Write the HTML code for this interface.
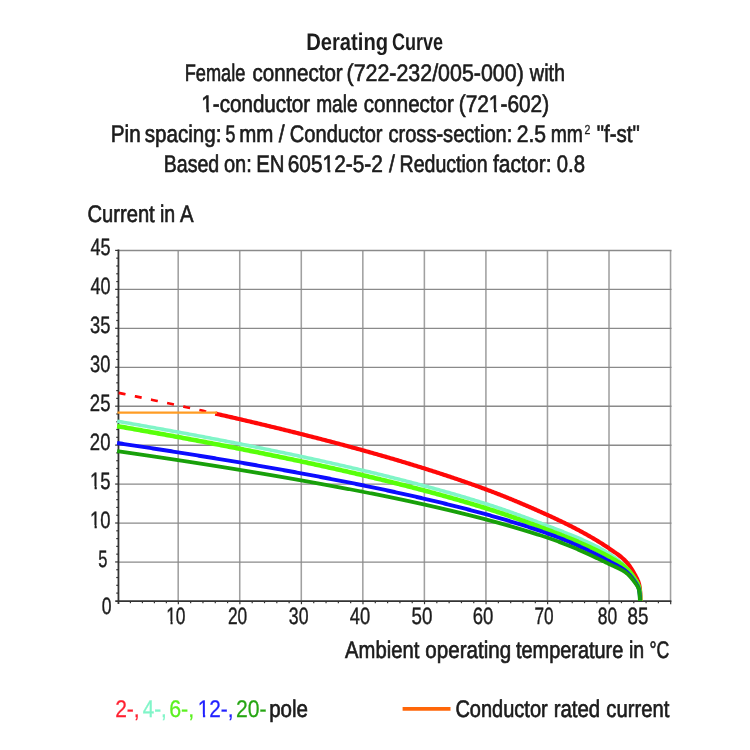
<!DOCTYPE html>
<html><head><meta charset="utf-8"><title>Derating Curve</title>
<style>
html,body{margin:0;padding:0;background:#fff;}
body{width:750px;height:750px;overflow:hidden;font-family:"Liberation Sans",sans-serif;}
svg{display:block;will-change:transform;filter:blur(0.4px);}
text{font-family:"Liberation Sans",sans-serif;fill:#1c1c1c;stroke:#1c1c1c;stroke-width:0.65px;font-kerning:none;text-rendering:geometricPrecision;}
</style></head><body>
<svg width="750" height="750" viewBox="0 0 750 750">
<rect width="750" height="750" fill="#ffffff"/>
<g stroke="#a0a0a0" stroke-width="1.55" fill="none"><line x1="178.19" y1="250.20" x2="178.19" y2="600.70"/><line x1="239.74" y1="250.20" x2="239.74" y2="600.70"/><line x1="301.29" y1="250.20" x2="301.29" y2="600.70"/><line x1="362.83" y1="250.20" x2="362.83" y2="600.70"/><line x1="424.38" y1="250.20" x2="424.38" y2="600.70"/><line x1="485.92" y1="250.20" x2="485.92" y2="600.70"/><line x1="547.47" y1="250.20" x2="547.47" y2="600.70"/><line x1="609.01" y1="250.20" x2="609.01" y2="600.70"/><line x1="670.55" y1="250.20" x2="670.55" y2="600.70"/></g>
<g stroke="#8a8a8a" stroke-width="1.35" fill="none"><line x1="118.45" y1="562.06" x2="671.50" y2="562.06"/><line x1="118.45" y1="523.11" x2="671.50" y2="523.11"/><line x1="118.45" y1="484.17" x2="671.50" y2="484.17"/><line x1="118.45" y1="445.22" x2="671.50" y2="445.22"/><line x1="118.45" y1="406.28" x2="671.50" y2="406.28"/><line x1="118.45" y1="367.33" x2="671.50" y2="367.33"/><line x1="118.45" y1="328.39" x2="671.50" y2="328.39"/><line x1="118.45" y1="289.44" x2="671.50" y2="289.44"/><line x1="118.45" y1="250.50" x2="671.50" y2="250.50"/></g>
<g stroke="#333333" stroke-width="1.8" fill="none"><line x1="118.45" y1="249.60" x2="118.45" y2="604.00"/><line x1="115.25" y1="601.20" x2="671.40" y2="601.20"/></g>
<g stroke="#333333" stroke-width="1.2" fill="none"><line x1="116.25" y1="593.11" x2="118.45" y2="593.11"/><line x1="116.25" y1="585.32" x2="118.45" y2="585.32"/><line x1="116.25" y1="577.53" x2="118.45" y2="577.53"/><line x1="116.25" y1="569.74" x2="118.45" y2="569.74"/><line x1="115.15" y1="561.96" x2="118.45" y2="561.96"/><line x1="116.25" y1="554.17" x2="118.45" y2="554.17"/><line x1="116.25" y1="546.38" x2="118.45" y2="546.38"/><line x1="116.25" y1="538.59" x2="118.45" y2="538.59"/><line x1="116.25" y1="530.80" x2="118.45" y2="530.80"/><line x1="115.15" y1="523.01" x2="118.45" y2="523.01"/><line x1="116.25" y1="515.22" x2="118.45" y2="515.22"/><line x1="116.25" y1="507.43" x2="118.45" y2="507.43"/><line x1="116.25" y1="499.64" x2="118.45" y2="499.64"/><line x1="116.25" y1="491.86" x2="118.45" y2="491.86"/><line x1="115.15" y1="484.07" x2="118.45" y2="484.07"/><line x1="116.25" y1="476.28" x2="118.45" y2="476.28"/><line x1="116.25" y1="468.49" x2="118.45" y2="468.49"/><line x1="116.25" y1="460.70" x2="118.45" y2="460.70"/><line x1="116.25" y1="452.91" x2="118.45" y2="452.91"/><line x1="115.15" y1="445.12" x2="118.45" y2="445.12"/><line x1="116.25" y1="437.33" x2="118.45" y2="437.33"/><line x1="116.25" y1="429.54" x2="118.45" y2="429.54"/><line x1="116.25" y1="421.76" x2="118.45" y2="421.76"/><line x1="116.25" y1="413.97" x2="118.45" y2="413.97"/><line x1="115.15" y1="406.18" x2="118.45" y2="406.18"/><line x1="116.25" y1="398.39" x2="118.45" y2="398.39"/><line x1="116.25" y1="390.60" x2="118.45" y2="390.60"/><line x1="116.25" y1="382.81" x2="118.45" y2="382.81"/><line x1="116.25" y1="375.02" x2="118.45" y2="375.02"/><line x1="115.15" y1="367.23" x2="118.45" y2="367.23"/><line x1="116.25" y1="359.44" x2="118.45" y2="359.44"/><line x1="116.25" y1="351.66" x2="118.45" y2="351.66"/><line x1="116.25" y1="343.87" x2="118.45" y2="343.87"/><line x1="116.25" y1="336.08" x2="118.45" y2="336.08"/><line x1="115.15" y1="328.29" x2="118.45" y2="328.29"/><line x1="116.25" y1="320.50" x2="118.45" y2="320.50"/><line x1="116.25" y1="312.71" x2="118.45" y2="312.71"/><line x1="116.25" y1="304.92" x2="118.45" y2="304.92"/><line x1="116.25" y1="297.13" x2="118.45" y2="297.13"/><line x1="115.15" y1="289.34" x2="118.45" y2="289.34"/><line x1="116.25" y1="281.56" x2="118.45" y2="281.56"/><line x1="116.25" y1="273.77" x2="118.45" y2="273.77"/><line x1="116.25" y1="265.98" x2="118.45" y2="265.98"/><line x1="116.25" y1="258.19" x2="118.45" y2="258.19"/><line x1="115.15" y1="250.40" x2="118.45" y2="250.40"/><line x1="130.43" y1="601.20" x2="130.43" y2="603.20"/><line x1="142.41" y1="601.20" x2="142.41" y2="603.20"/><line x1="154.39" y1="601.20" x2="154.39" y2="603.20"/><line x1="166.37" y1="601.20" x2="166.37" y2="603.20"/><line x1="178.34" y1="601.20" x2="178.34" y2="604.20"/><line x1="190.65" y1="601.20" x2="190.65" y2="603.20"/><line x1="202.96" y1="601.20" x2="202.96" y2="603.20"/><line x1="215.27" y1="601.20" x2="215.27" y2="603.20"/><line x1="227.58" y1="601.20" x2="227.58" y2="603.20"/><line x1="239.89" y1="601.20" x2="239.89" y2="604.20"/><line x1="252.20" y1="601.20" x2="252.20" y2="603.20"/><line x1="264.51" y1="601.20" x2="264.51" y2="603.20"/><line x1="276.82" y1="601.20" x2="276.82" y2="603.20"/><line x1="289.13" y1="601.20" x2="289.13" y2="603.20"/><line x1="301.44" y1="601.20" x2="301.44" y2="604.20"/><line x1="313.74" y1="601.20" x2="313.74" y2="603.20"/><line x1="326.05" y1="601.20" x2="326.05" y2="603.20"/><line x1="338.36" y1="601.20" x2="338.36" y2="603.20"/><line x1="350.67" y1="601.20" x2="350.67" y2="603.20"/><line x1="362.98" y1="601.20" x2="362.98" y2="604.20"/><line x1="375.29" y1="601.20" x2="375.29" y2="603.20"/><line x1="387.60" y1="601.20" x2="387.60" y2="603.20"/><line x1="399.91" y1="601.20" x2="399.91" y2="603.20"/><line x1="412.22" y1="601.20" x2="412.22" y2="603.20"/><line x1="424.52" y1="601.20" x2="424.52" y2="604.20"/><line x1="436.83" y1="601.20" x2="436.83" y2="603.20"/><line x1="449.14" y1="601.20" x2="449.14" y2="603.20"/><line x1="461.45" y1="601.20" x2="461.45" y2="603.20"/><line x1="473.76" y1="601.20" x2="473.76" y2="603.20"/><line x1="486.07" y1="601.20" x2="486.07" y2="604.20"/><line x1="498.38" y1="601.20" x2="498.38" y2="603.20"/><line x1="510.69" y1="601.20" x2="510.69" y2="603.20"/><line x1="523.00" y1="601.20" x2="523.00" y2="603.20"/><line x1="535.31" y1="601.20" x2="535.31" y2="603.20"/><line x1="547.62" y1="601.20" x2="547.62" y2="604.20"/><line x1="559.92" y1="601.20" x2="559.92" y2="603.20"/><line x1="572.23" y1="601.20" x2="572.23" y2="603.20"/><line x1="584.54" y1="601.20" x2="584.54" y2="603.20"/><line x1="596.85" y1="601.20" x2="596.85" y2="603.20"/><line x1="609.16" y1="601.20" x2="609.16" y2="604.20"/><line x1="621.47" y1="601.20" x2="621.47" y2="603.20"/><line x1="633.78" y1="601.20" x2="633.78" y2="603.20"/><line x1="646.09" y1="601.20" x2="646.09" y2="603.20"/><line x1="658.40" y1="601.20" x2="658.40" y2="603.20"/><line x1="670.70" y1="601.20" x2="670.70" y2="604.20"/></g>
<g fill="none" stroke-linecap="butt" stroke-linejoin="round">
<path d="M215.27,413.59 L216.69,413.91 L218.10,414.23 L219.51,414.55 L220.92,414.86 L222.32,415.18 L223.72,415.50 L225.12,415.82 L226.52,416.14 L227.92,416.46 L229.31,416.78 L230.70,417.10 L232.09,417.42 L233.47,417.74 L234.86,418.06 L236.24,418.38 L237.62,418.70 L239.00,419.01 L240.37,419.33 L241.74,419.65 L243.11,419.97 L244.48,420.29 L245.84,420.61 L247.21,420.93 L248.57,421.25 L249.92,421.57 L251.28,421.89 L252.63,422.20 L253.98,422.52 L255.33,422.84 L256.68,423.16 L258.02,423.48 L259.36,423.80 L260.70,424.12 L262.04,424.44 L263.37,424.76 L264.70,425.08 L266.03,425.39 L267.36,425.71 L268.68,426.03 L270.01,426.35 L271.33,426.67 L272.64,426.99 L273.96,427.31 L275.27,427.63 L276.58,427.94 L277.89,428.26 L279.20,428.58 L280.50,428.90 L281.80,429.22 L283.10,429.54 L284.40,429.86 L285.69,430.18 L286.98,430.49 L288.27,430.81 L289.56,431.13 L290.84,431.45 L292.12,431.77 L293.40,432.09 L294.68,432.41 L295.96,432.72 L297.23,433.04 L298.50,433.36 L299.77,433.68 L301.03,434.00 L302.30,434.32 L303.56,434.63 L304.82,434.95 L306.07,435.27 L307.33,435.59 L308.58,435.91 L309.83,436.23 L311.08,436.55 L312.32,436.86 L313.56,437.18 L314.80,437.50 L316.04,437.82 L317.27,438.14 L318.51,438.46 L319.74,438.77 L320.97,439.09 L322.19,439.41 L323.41,439.73 L324.64,440.05 L325.85,440.36 L327.07,440.68 L328.28,441.00 L329.50,441.32 L330.70,441.64 L331.91,441.96 L333.12,442.27 L334.32,442.59 L335.52,442.91 L336.71,443.23 L337.91,443.55 L339.10,443.86 L340.29,444.18 L341.48,444.50 L342.67,444.82 L343.85,445.14 L345.03,445.45 L346.21,445.77 L347.38,446.09 L348.56,446.41 L349.73,446.73 L350.90,447.04 L352.06,447.36 L353.23,447.68 L354.39,448.00 L355.55,448.31 L356.71,448.63 L357.86,448.95 L359.01,449.27 L360.16,449.59 L361.31,449.90 L362.46,450.22 L363.60,450.54 L364.74,450.86 L365.88,451.17 L367.02,451.49 L368.15,451.81 L369.28,452.13 L370.41,452.44 L371.54,452.76 L372.66,453.08 L373.78,453.40 L374.90,453.71 L376.02,454.03 L377.13,454.35 L378.25,454.67 L379.36,454.98 L380.46,455.30 L381.57,455.62 L382.67,455.94 L383.77,456.25 L384.87,456.57 L385.97,456.89 L387.06,457.21 L388.15,457.52 L389.24,457.84 L390.33,458.16 L391.41,458.48 L392.49,458.79 L393.57,459.11 L394.65,459.43 L395.72,459.75 L396.80,460.06 L397.87,460.38 L398.93,460.70 L400.00,461.01 L401.06,461.33 L402.12,461.65 L403.18,461.97 L404.24,462.28 L405.29,462.60 L406.34,462.92 L407.39,463.23 L408.43,463.55 L409.48,463.87 L410.52,464.19 L411.56,464.50 L412.60,464.82 L413.63,465.14 L414.66,465.45 L415.69,465.77 L416.72,466.09 L417.75,466.40 L418.77,466.72 L419.79,467.04 L420.81,467.35 L421.82,467.67 L422.84,467.99 L423.85,468.30 L424.85,468.62 L425.86,468.94 L426.86,469.25 L427.87,469.57 L428.87,469.89 L429.86,470.20 L430.86,470.52 L431.85,470.84 L432.84,471.15 L433.83,471.47 L434.81,471.79 L435.79,472.10 L436.77,472.42 L437.75,472.74 L438.73,473.05 L439.70,473.37 L440.67,473.69 L441.64,474.00 L442.61,474.32 L443.57,474.64 L444.53,474.95 L445.49,475.27 L446.45,475.58 L447.40,475.90 L448.35,476.22 L449.30,476.53 L450.25,476.85 L451.19,477.17 L452.14,477.48 L453.08,477.80 L454.01,478.12 L454.95,478.43 L455.88,478.75 L456.81,479.06 L457.74,479.38 L458.67,479.70 L459.59,480.01 L460.51,480.33 L461.43,480.64 L462.35,480.96 L463.26,481.28 L464.17,481.59 L465.08,481.91 L465.99,482.22 L466.90,482.54 L467.80,482.86 L468.70,483.17 L469.60,483.49 L470.49,483.80 L471.38,484.12 L472.28,484.44 L473.16,484.75 L474.05,485.07 L474.93,485.38 L475.81,485.70 L476.69,486.01 L477.57,486.33 L478.44,486.65 L479.32,486.96 L480.18,487.28 L481.05,487.59 L481.92,487.91 L482.78,488.22 L483.64,488.54 L484.50,488.85 L485.35,489.17 L486.20,489.49 L487.05,489.80 L487.90,490.12 L488.75,490.43 L489.59,490.75 L490.43,491.07 L491.27,491.38 L492.11,491.70 L492.94,492.02 L493.77,492.34 L494.60,492.65 L495.43,492.97 L496.25,493.29 L497.08,493.61 L497.90,493.93 L498.71,494.25 L499.53,494.57 L500.34,494.89 L501.15,495.20 L501.96,495.52 L502.77,495.84 L503.57,496.16 L504.37,496.48 L505.17,496.80 L505.97,497.12 L506.76,497.44 L507.55,497.76 L508.34,498.08 L509.13,498.40 L509.91,498.72 L510.69,499.04 L511.47,499.36 L512.25,499.68 L513.03,500.00 L513.80,500.32 L514.57,500.64 L515.34,500.96 L516.10,501.28 L516.86,501.59 L517.63,501.91 L518.38,502.23 L519.14,502.55 L519.89,502.87 L520.65,503.19 L521.39,503.50 L522.14,503.82 L522.89,504.14 L523.63,504.46 L524.37,504.77 L525.10,505.09 L525.84,505.40 L526.57,505.72 L527.30,506.03 L528.03,506.35 L528.76,506.66 L529.48,506.98 L530.20,507.29 L530.92,507.61 L531.63,507.92 L532.35,508.23 L533.06,508.54 L533.77,508.85 L534.47,509.17 L535.18,509.48 L535.88,509.79 L536.58,510.10 L537.28,510.40 L537.97,510.71 L538.66,511.02 L539.35,511.33 L540.04,511.63 L540.73,511.94 L541.41,512.25 L542.09,512.55 L542.77,512.86 L543.44,513.16 L544.12,513.46 L544.79,513.76 L545.46,514.07 L546.12,514.37 L546.79,514.67 L547.45,514.97 L548.11,515.27 L548.77,515.56 L549.42,515.86 L550.07,516.16 L550.72,516.46 L551.37,516.76 L552.02,517.05 L552.66,517.35 L553.30,517.65 L553.94,517.95 L554.57,518.24 L555.21,518.54 L555.84,518.84 L556.47,519.13 L557.09,519.43 L557.72,519.72 L558.34,520.02 L558.96,520.31 L559.58,520.61 L560.19,520.90 L560.80,521.20 L561.41,521.49 L562.02,521.79 L562.63,522.08 L563.23,522.37 L563.83,522.67 L564.43,522.96 L565.02,523.25 L565.62,523.54 L566.21,523.84 L566.80,524.13 L567.38,524.42 L567.97,524.71 L568.55,525.00 L569.13,525.29 L569.70,525.58 L570.28,525.87 L570.85,526.16 L571.42,526.45 L571.99,526.74 L572.55,527.03 L573.11,527.32 L573.67,527.61 L574.23,527.90 L574.79,528.19 L575.34,528.48 L575.89,528.76 L576.44,529.05 L576.99,529.34 L577.53,529.62 L578.07,529.91 L578.61,530.20 L579.15,530.48 L579.68,530.77 L580.21,531.05 L580.74,531.34 L581.27,531.62 L581.80,531.91 L582.32,532.19 L582.84,532.48 L583.36,532.76 L583.87,533.04 L584.39,533.33 L584.90,533.61 L585.40,533.89 L585.91,534.17 L586.41,534.45 L586.92,534.74 L587.41,535.02 L587.91,535.30 L588.41,535.58 L588.90,535.86 L589.39,536.14 L589.87,536.42 L590.36,536.70 L590.84,536.98 L591.32,537.25 L591.80,537.53 L592.27,537.81 L592.75,538.09 L593.22,538.37 L593.69,538.64 L594.16,538.92 L594.63,539.20 L595.09,539.47 L595.55,539.75 L596.01,540.02 L596.47,540.30 L596.92,540.57 L597.38,540.85 L597.83,541.12 L598.27,541.39 L598.72,541.67 L599.16,541.94 L599.60,542.21 L600.04,542.48 L600.47,542.76 L600.91,543.03 L601.34,543.30 L601.77,543.57 L602.19,543.84 L602.62,544.11 L603.04,544.38 L603.46,544.65 L603.88,544.92 L604.29,545.18 L604.70,545.45 L605.11,545.72 L605.52,545.99 L605.92,546.25 L606.33,546.52 L606.73,546.79 L607.12,547.05 L607.52,547.32 L607.91,547.58 L608.30,547.85 L608.69,548.11 L609.08,548.38 L609.46,548.64 L609.84,548.90 L610.22,549.16 L610.60,549.42 L610.97,549.67 L611.35,549.93 L611.72,550.18 L612.08,550.43 L612.45,550.68 L612.81,550.93 L613.17,551.18 L613.53,551.42 L613.88,551.67 L614.24,551.91 L614.59,552.15 L614.94,552.40 L615.28,552.64 L615.63,552.88 L615.97,553.12 L616.31,553.36 L616.64,553.60 L616.98,553.84 L617.31,554.08 L617.64,554.32 L617.97,554.56 L618.29,554.80 L618.61,555.04 L618.93,555.28 L619.25,555.52 L619.57,555.77 L619.88,556.01 L620.19,556.25 L620.50,556.50 L620.80,556.74 L621.11,556.99 L621.41,557.24 L621.71,557.49 L622.00,557.74 L622.30,557.99 L622.59,558.25 L622.88,558.50 L623.17,558.76 L623.45,559.02 L623.73,559.28 L624.01,559.55 L624.29,559.81 L624.57,560.08 L624.84,560.35 L625.11,560.62 L625.38,560.90 L625.64,561.18 L625.91,561.46 L626.17,561.75 L626.43,562.04 L626.68,562.33 L626.94,562.62 L627.19,562.92 L627.44,563.22 L627.68,563.52 L627.93,563.83 L628.17,564.13 L628.41,564.44 L628.65,564.75 L628.88,565.06 L629.12,565.38 L629.35,565.69 L629.57,566.01 L629.80,566.33 L630.02,566.65 L630.24,566.97 L630.46,567.29 L630.68,567.61 L630.89,567.94 L631.11,568.26 L631.31,568.58 L631.52,568.91 L631.73,569.23 L631.93,569.56 L632.13,569.88 L632.33,570.21 L632.52,570.53 L632.71,570.85 L632.90,571.17 L633.09,571.50 L633.28,571.82 L633.46,572.14 L633.64,572.45 L633.82,572.77 L634.00,573.09 L634.17,573.40 L634.34,573.71 L634.51,574.02 L634.68,574.33 L634.84,574.64 L635.00,574.94 L635.16,575.24 L635.32,575.54 L635.47,575.84 L635.63,576.13 L635.78,576.42 L635.93,576.70 L636.07,576.98 L636.21,577.25 L636.35,577.52 L636.49,577.78 L636.63,578.04 L636.76,578.30 L636.89,578.55 L637.02,578.81 L637.15,579.06 L637.27,579.31 L637.40,579.56 L637.52,579.81 L637.63,580.07 L637.75,580.32 L637.86,580.58 L637.97,580.84 L638.08,581.11 L638.18,581.38 L638.29,581.65 L638.39,581.93 L638.49,582.21 L638.58,582.50 L638.67,582.80 L638.77,583.11 L638.85,583.42 L638.94,583.75 L639.03,584.08 L639.11,584.42 L639.19,584.78 L639.26,585.14 L639.34,585.51 L639.41,585.90 L639.48,586.29 L639.55,586.70 L639.61,587.11 L639.68,587.53 L639.74,587.97 L639.80,588.41 L639.85,588.86 L639.90,589.32 L639.96,589.78 L640.00,590.26 L640.05,590.75 L640.09,591.24 L640.14,591.74 L640.18,592.25 L640.21,592.76 L640.25,593.29 L640.28,593.82 L640.31,594.36 L640.34,594.90 L640.36,595.45 L640.38,596.01 L640.41,596.58 L640.42,597.15 L640.44,597.73 L640.45,598.31 L640.46,598.90 L640.47,599.49 L640.48,600.09 L640.48,601.10" stroke="#ff0808" stroke-width="4.2"/>
<path d="M118.65,392.88 L121.06,393.37 L123.48,393.87 L125.89,394.36 L128.31,394.86 L130.72,395.36 L133.14,395.86 L135.56,396.36 L137.97,396.86 L140.39,397.36 L142.80,397.87 L145.22,398.37 L147.63,398.88 L150.05,399.39 L152.47,399.90 L154.88,400.41 L157.30,400.92 L159.71,401.43 L162.13,401.94 L164.54,402.46 L166.96,402.98 L169.37,403.49 L171.79,404.01 L174.21,404.53 L176.62,405.05 L179.04,405.58 L181.45,406.10 L183.87,406.63 L186.28,407.15 L188.70,407.68 L191.12,408.21 L193.53,408.74 L195.95,409.28 L198.36,409.81 L200.78,410.34 L203.19,410.88 L205.61,411.42 L208.03,411.96 L210.44,412.50 L212.86,413.04 L215.27,413.59" stroke="#ff0808" stroke-width="2.6" stroke-dasharray="7,9.5"/>
<path d="M117.45,412.60 L217.12,412.60" stroke="#ff9c24" stroke-width="2.2"/>
<path d="M117.11,421.22 L118.85,421.52 L120.59,421.82 L122.32,422.12 L124.06,422.43 L125.79,422.73 L127.51,423.03 L129.24,423.33 L130.96,423.63 L132.67,423.93 L134.39,424.23 L136.10,424.54 L137.81,424.84 L139.52,425.14 L141.22,425.44 L142.92,425.74 L144.62,426.04 L146.31,426.34 L148.01,426.65 L149.70,426.95 L151.38,427.25 L153.06,427.55 L154.75,427.85 L156.42,428.15 L158.10,428.45 L159.77,428.76 L161.44,429.06 L163.10,429.36 L164.77,429.66 L166.43,429.96 L168.08,430.26 L169.74,430.56 L171.39,430.87 L173.04,431.17 L174.68,431.47 L176.32,431.77 L177.96,432.07 L179.60,432.37 L181.24,432.67 L182.87,432.98 L184.49,433.28 L186.12,433.58 L187.74,433.88 L189.36,434.18 L190.98,434.48 L192.59,434.78 L194.20,435.09 L195.81,435.39 L197.41,435.69 L199.02,435.99 L200.61,436.29 L202.21,436.59 L203.80,436.89 L205.39,437.19 L206.98,437.50 L208.57,437.80 L210.15,438.10 L211.73,438.40 L213.30,438.70 L214.87,439.00 L216.44,439.30 L218.01,439.60 L219.58,439.91 L221.14,440.21 L222.70,440.51 L224.25,440.81 L225.80,441.11 L227.35,441.41 L228.90,441.71 L230.44,442.01 L231.98,442.32 L233.52,442.62 L235.06,442.92 L236.59,443.22 L238.12,443.52 L239.64,443.82 L241.17,444.12 L242.69,444.42 L244.21,444.73 L245.72,445.03 L247.23,445.33 L248.74,445.63 L250.25,445.93 L251.75,446.23 L253.25,446.53 L254.75,446.83 L256.24,447.14 L257.73,447.44 L259.22,447.74 L260.71,448.04 L262.19,448.34 L263.67,448.64 L265.15,448.94 L266.62,449.24 L268.09,449.54 L269.56,449.85 L271.03,450.15 L272.49,450.45 L273.95,450.75 L275.41,451.05 L276.86,451.35 L278.31,451.65 L279.76,451.95 L281.20,452.25 L282.65,452.56 L284.08,452.86 L285.52,453.16 L286.95,453.46 L288.39,453.76 L289.81,454.06 L291.24,454.36 L292.66,454.66 L294.08,454.96 L295.49,455.26 L296.91,455.57 L298.32,455.87 L299.72,456.17 L301.13,456.47 L302.53,456.77 L303.93,457.07 L305.32,457.37 L306.72,457.67 L308.11,457.97 L309.49,458.27 L310.88,458.58 L312.26,458.88 L313.64,459.18 L315.01,459.48 L316.39,459.78 L317.75,460.08 L319.12,460.38 L320.49,460.68 L321.85,460.98 L323.20,461.28 L324.56,461.58 L325.91,461.89 L327.26,462.19 L328.61,462.49 L329.95,462.79 L331.29,463.09 L332.63,463.39 L333.96,463.69 L335.29,463.99 L336.62,464.29 L337.95,464.59 L339.27,464.89 L340.59,465.20 L341.91,465.50 L343.22,465.80 L344.54,466.10 L345.84,466.40 L347.15,466.70 L348.45,467.00 L349.75,467.30 L351.05,467.60 L352.34,467.90 L353.63,468.20 L354.92,468.50 L356.21,468.81 L357.49,469.11 L358.77,469.41 L360.05,469.71 L361.32,470.01 L362.59,470.31 L363.86,470.61 L365.12,470.91 L366.38,471.21 L367.64,471.51 L368.90,471.81 L370.15,472.11 L371.40,472.41 L372.65,472.72 L373.90,473.02 L375.14,473.32 L376.38,473.62 L377.61,473.92 L378.85,474.22 L380.08,474.52 L381.30,474.82 L382.53,475.12 L383.75,475.42 L384.97,475.72 L386.18,476.02 L387.40,476.32 L388.60,476.62 L389.81,476.92 L391.02,477.23 L392.22,477.53 L393.41,477.83 L394.61,478.13 L395.80,478.43 L396.99,478.73 L398.18,479.03 L399.36,479.33 L400.54,479.63 L401.72,479.93 L402.90,480.23 L404.07,480.53 L405.24,480.83 L406.40,481.13 L407.57,481.43 L408.73,481.73 L409.88,482.03 L411.04,482.34 L412.19,482.64 L413.34,482.94 L414.48,483.24 L415.63,483.54 L416.77,483.84 L417.90,484.14 L419.04,484.44 L420.17,484.74 L421.30,485.04 L422.42,485.34 L423.55,485.64 L424.67,485.94 L425.78,486.24 L426.90,486.54 L428.01,486.84 L429.12,487.14 L430.22,487.44 L431.32,487.74 L432.42,488.04 L433.52,488.34 L434.61,488.65 L435.70,488.95 L436.79,489.25 L437.88,489.55 L438.96,489.85 L440.04,490.15 L441.11,490.45 L442.19,490.75 L443.26,491.05 L444.32,491.35 L445.39,491.65 L446.45,491.95 L447.51,492.25 L448.57,492.55 L449.62,492.85 L450.67,493.15 L451.72,493.45 L452.76,493.75 L453.80,494.05 L454.84,494.35 L455.87,494.65 L456.91,494.95 L457.94,495.25 L458.96,495.55 L459.99,495.85 L461.01,496.15 L462.03,496.45 L463.04,496.75 L464.05,497.05 L465.06,497.35 L466.07,497.65 L467.07,497.95 L468.07,498.25 L469.07,498.56 L470.07,498.86 L471.06,499.16 L472.05,499.46 L473.03,499.76 L474.02,500.06 L475.00,500.36 L475.97,500.66 L476.95,500.96 L477.92,501.26 L478.89,501.56 L479.86,501.86 L480.82,502.16 L481.78,502.46 L482.74,502.76 L483.69,503.06 L484.64,503.36 L485.59,503.66 L486.53,503.96 L487.48,504.26 L488.42,504.56 L489.35,504.86 L490.29,505.16 L491.22,505.46 L492.15,505.77 L493.07,506.07 L493.99,506.37 L494.91,506.68 L495.83,506.98 L496.74,507.29 L497.65,507.59 L498.56,507.90 L499.47,508.20 L500.37,508.51 L501.27,508.81 L502.16,509.12 L503.06,509.42 L503.95,509.73 L504.83,510.03 L505.72,510.34 L506.60,510.65 L507.48,510.95 L508.35,511.26 L509.23,511.57 L510.10,511.87 L510.96,512.18 L511.83,512.48 L512.69,512.79 L513.55,513.10 L514.40,513.40 L515.25,513.71 L516.10,514.01 L516.95,514.32 L517.79,514.62 L518.64,514.93 L519.47,515.23 L520.31,515.54 L521.14,515.84 L521.97,516.14 L522.80,516.45 L523.62,516.75 L524.44,517.05 L525.26,517.35 L526.07,517.65 L526.88,517.96 L527.69,518.26 L528.50,518.56 L529.30,518.86 L530.10,519.16 L530.90,519.45 L531.69,519.75 L532.49,520.05 L533.27,520.35 L534.06,520.64 L534.84,520.94 L535.62,521.23 L536.40,521.53 L537.17,521.82 L537.95,522.11 L538.71,522.40 L539.48,522.69 L540.24,522.98 L541.00,523.27 L541.76,523.56 L542.51,523.85 L543.26,524.14 L544.01,524.42 L544.76,524.71 L545.50,524.99 L546.24,525.27 L546.97,525.56 L547.71,525.84 L548.44,526.12 L549.16,526.40 L549.89,526.67 L550.61,526.95 L551.33,527.23 L552.05,527.50 L552.76,527.78 L553.47,528.05 L554.18,528.32 L554.88,528.60 L555.58,528.87 L556.28,529.14 L556.98,529.41 L557.67,529.68 L558.36,529.94 L559.05,530.21 L559.73,530.48 L560.41,530.75 L561.09,531.01 L561.76,531.28 L562.44,531.54 L563.11,531.80 L563.77,532.07 L564.44,532.33 L565.10,532.59 L565.76,532.85 L566.41,533.11 L567.06,533.37 L567.71,533.64 L568.36,533.89 L569.00,534.15 L569.64,534.41 L570.28,534.67 L570.91,534.93 L571.55,535.19 L572.17,535.44 L572.80,535.70 L573.42,535.96 L574.04,536.21 L574.66,536.47 L575.28,536.72 L575.89,536.98 L576.49,537.23 L577.10,537.49 L577.70,537.74 L578.30,538.00 L578.90,538.25 L579.49,538.51 L580.09,538.76 L580.67,539.01 L581.26,539.27 L581.84,539.52 L582.42,539.77 L583.00,540.03 L583.57,540.28 L584.14,540.54 L584.71,540.79 L585.27,541.04 L585.84,541.30 L586.40,541.55 L586.95,541.80 L587.50,542.06 L588.06,542.31 L588.60,542.56 L589.15,542.82 L589.69,543.07 L590.23,543.33 L590.76,543.58 L591.30,543.83 L591.83,544.09 L592.35,544.34 L592.88,544.60 L593.40,544.86 L593.92,545.11 L594.43,545.37 L594.95,545.62 L595.46,545.88 L595.96,546.14 L596.47,546.39 L596.97,546.65 L597.47,546.91 L597.96,547.17 L598.45,547.43 L598.94,547.69 L599.43,547.95 L599.91,548.21 L600.39,548.47 L600.87,548.73 L601.35,548.99 L601.82,549.25 L602.29,549.52 L602.75,549.78 L603.22,550.05 L603.68,550.31 L604.13,550.58 L604.59,550.84 L605.04,551.11 L605.49,551.38 L605.94,551.64 L606.38,551.91 L606.82,552.18 L607.26,552.45 L607.69,552.72 L608.12,553.00 L608.55,553.27 L608.98,553.54 L609.40,553.82 L609.82,554.09 L610.23,554.37 L610.65,554.64 L611.06,554.92 L611.47,555.20 L611.87,555.48 L612.28,555.76 L612.67,556.03 L613.07,556.31 L613.46,556.59 L613.86,556.88 L614.24,557.16 L614.63,557.44 L615.01,557.72 L615.39,558.00 L615.76,558.29 L616.14,558.57 L616.51,558.86 L616.88,559.14 L617.24,559.43 L617.60,559.71 L617.96,560.00 L618.32,560.28 L618.67,560.57 L619.02,560.86 L619.37,561.15 L619.71,561.43 L620.05,561.72 L620.39,562.01 L620.73,562.30 L621.06,562.59 L621.39,562.88 L621.71,563.17 L622.04,563.45 L622.36,563.74 L622.68,564.03 L622.99,564.32 L623.31,564.61 L623.61,564.91 L623.92,565.20 L624.22,565.49 L624.53,565.78 L624.82,566.07 L625.12,566.36 L625.41,566.65 L625.70,566.94 L625.98,567.24 L626.27,567.53 L626.55,567.83 L626.83,568.13 L627.10,568.43 L627.37,568.72 L627.64,569.02 L627.91,569.33 L628.17,569.63 L628.43,569.93 L628.69,570.23 L628.94,570.53 L629.19,570.84 L629.44,571.14 L629.69,571.45 L629.93,571.75 L630.17,572.05 L630.40,572.36 L630.64,572.66 L630.87,572.97 L631.10,573.27 L631.32,573.57 L631.54,573.87 L631.76,574.18 L631.98,574.48 L632.19,574.78 L632.40,575.08 L632.61,575.38 L632.82,575.68 L633.02,575.98 L633.22,576.27 L633.41,576.57 L633.61,576.86 L633.80,577.16 L633.98,577.45 L634.17,577.74 L634.35,578.03 L634.53,578.32 L634.70,578.60 L634.88,578.89 L635.05,579.17 L635.21,579.45 L635.38,579.73 L635.54,580.00 L635.70,580.27 L635.85,580.53 L636.01,580.78 L636.16,581.03 L636.30,581.28 L636.45,581.52 L636.59,581.76 L636.72,582.01 L636.86,582.25 L636.99,582.49 L637.12,582.73 L637.25,582.97 L637.37,583.22 L637.49,583.47 L637.61,583.72 L637.72,583.97 L637.84,584.23 L637.94,584.50 L638.05,584.77 L638.15,585.05 L638.25,585.34 L638.35,585.63 L638.45,585.94 L638.54,586.25 L638.63,586.58 L638.71,586.91 L638.79,587.26 L638.87,587.62 L638.95,587.99 L639.02,588.37 L639.10,588.76 L639.16,589.15 L639.23,589.56 L639.29,589.98 L639.35,590.41 L639.41,590.85 L639.46,591.30 L639.51,591.76 L639.56,592.22 L639.61,592.69 L639.65,593.18 L639.69,593.67 L639.72,594.17 L639.76,594.67 L639.79,595.19 L639.81,595.71 L639.84,596.24 L639.86,596.77 L639.88,597.31 L639.90,597.86 L639.91,598.42 L639.92,598.98 L639.93,599.55 L639.93,600.12 L639.93,601.10" stroke="#80f5c8" stroke-width="3.6"/>
<path d="M117.11,426.13 L118.85,426.43 L120.59,426.73 L122.32,427.03 L124.06,427.34 L125.79,427.64 L127.51,427.94 L129.24,428.24 L130.96,428.55 L132.67,428.85 L134.39,429.15 L136.10,429.45 L137.81,429.76 L139.52,430.06 L141.22,430.36 L142.92,430.66 L144.62,430.97 L146.31,431.27 L148.01,431.57 L149.70,431.87 L151.38,432.17 L153.06,432.48 L154.75,432.78 L156.42,433.08 L158.10,433.38 L159.77,433.69 L161.44,433.99 L163.10,434.29 L164.77,434.59 L166.43,434.89 L168.08,435.20 L169.74,435.50 L171.39,435.80 L173.04,436.10 L174.68,436.40 L176.32,436.70 L177.96,437.01 L179.60,437.31 L181.24,437.61 L182.87,437.91 L184.49,438.21 L186.12,438.52 L187.74,438.82 L189.36,439.12 L190.98,439.42 L192.59,439.72 L194.20,440.02 L195.81,440.33 L197.41,440.63 L199.02,440.93 L200.61,441.23 L202.21,441.53 L203.80,441.83 L205.39,442.13 L206.98,442.44 L208.57,442.74 L210.15,443.04 L211.73,443.34 L213.30,443.64 L214.87,443.94 L216.44,444.24 L218.01,444.55 L219.58,444.85 L221.14,445.15 L222.70,445.45 L224.25,445.75 L225.80,446.05 L227.35,446.35 L228.90,446.65 L230.44,446.96 L231.98,447.26 L233.52,447.56 L235.06,447.86 L236.59,448.16 L238.12,448.46 L239.64,448.76 L241.17,449.06 L242.69,449.36 L244.21,449.66 L245.72,449.97 L247.23,450.27 L248.74,450.57 L250.25,450.87 L251.75,451.17 L253.25,451.47 L254.75,451.77 L256.24,452.07 L257.73,452.37 L259.22,452.67 L260.71,452.97 L262.19,453.27 L263.67,453.57 L265.15,453.88 L266.62,454.18 L268.09,454.48 L269.56,454.78 L271.03,455.08 L272.49,455.38 L273.95,455.68 L275.41,455.98 L276.86,456.28 L278.31,456.58 L279.76,456.88 L281.20,457.18 L282.65,457.48 L284.08,457.78 L285.52,458.08 L286.95,458.38 L288.39,458.68 L289.81,458.98 L291.24,459.28 L292.66,459.58 L294.08,459.88 L295.49,460.18 L296.91,460.48 L298.32,460.78 L299.72,461.08 L301.13,461.38 L302.53,461.68 L303.93,461.98 L305.32,462.28 L306.72,462.58 L308.11,462.88 L309.49,463.18 L310.88,463.48 L312.26,463.78 L313.64,464.08 L315.01,464.38 L316.39,464.68 L317.75,464.98 L319.12,465.28 L320.49,465.58 L321.85,465.88 L323.20,466.18 L324.56,466.48 L325.91,466.78 L327.26,467.08 L328.61,467.38 L329.95,467.68 L331.29,467.98 L332.63,468.28 L333.96,468.57 L335.29,468.87 L336.62,469.17 L337.95,469.47 L339.27,469.77 L340.59,470.07 L341.91,470.37 L343.22,470.67 L344.54,470.97 L345.84,471.27 L347.15,471.57 L348.45,471.87 L349.75,472.17 L351.05,472.46 L352.34,472.76 L353.63,473.06 L354.92,473.36 L356.21,473.66 L357.49,473.96 L358.77,474.26 L360.05,474.56 L361.32,474.86 L362.59,475.15 L363.86,475.45 L365.12,475.75 L366.38,476.05 L367.64,476.35 L368.90,476.65 L370.15,476.95 L371.40,477.24 L372.65,477.54 L373.90,477.84 L375.14,478.14 L376.38,478.44 L377.61,478.74 L378.85,479.04 L380.08,479.33 L381.30,479.63 L382.53,479.93 L383.75,480.23 L384.97,480.53 L386.18,480.83 L387.40,481.12 L388.60,481.42 L389.81,481.72 L391.02,482.02 L392.22,482.32 L393.41,482.62 L394.61,482.91 L395.80,483.21 L396.99,483.51 L398.18,483.81 L399.36,484.11 L400.54,484.40 L401.72,484.70 L402.90,485.00 L404.07,485.30 L405.24,485.59 L406.40,485.89 L407.57,486.19 L408.73,486.49 L409.88,486.79 L411.04,487.08 L412.19,487.38 L413.34,487.68 L414.48,487.98 L415.63,488.27 L416.77,488.57 L417.90,488.87 L419.04,489.17 L420.17,489.46 L421.30,489.76 L422.42,490.06 L423.55,490.36 L424.67,490.65 L425.78,490.95 L426.90,491.25 L428.01,491.54 L429.12,491.84 L430.22,492.14 L431.32,492.44 L432.42,492.73 L433.52,493.03 L434.61,493.33 L435.70,493.62 L436.79,493.92 L437.88,494.22 L438.96,494.51 L440.04,494.81 L441.11,495.11 L442.19,495.40 L443.26,495.70 L444.32,496.00 L445.39,496.29 L446.45,496.59 L447.51,496.89 L448.57,497.19 L449.62,497.48 L450.67,497.78 L451.72,498.07 L452.76,498.37 L453.80,498.67 L454.84,498.96 L455.87,499.26 L456.91,499.56 L457.94,499.85 L458.96,500.15 L459.99,500.45 L461.01,500.74 L462.03,501.04 L463.04,501.33 L464.05,501.63 L465.06,501.93 L466.07,502.22 L467.07,502.52 L468.07,502.81 L469.07,503.11 L470.07,503.41 L471.06,503.70 L472.05,504.00 L473.03,504.29 L474.02,504.59 L475.00,504.89 L475.97,505.18 L476.95,505.48 L477.92,505.77 L478.89,506.07 L479.86,506.36 L480.82,506.66 L481.78,506.95 L482.74,507.25 L483.69,507.54 L484.64,507.84 L485.59,508.13 L486.53,508.43 L487.48,508.73 L488.42,509.02 L489.35,509.32 L490.29,509.62 L491.22,509.91 L492.15,510.21 L493.07,510.51 L493.99,510.81 L494.91,511.10 L495.83,511.40 L496.74,511.70 L497.65,512.00 L498.56,512.30 L499.47,512.60 L500.37,512.90 L501.27,513.20 L502.16,513.50 L503.06,513.80 L503.95,514.10 L504.83,514.40 L505.72,514.70 L506.60,515.00 L507.48,515.30 L508.35,515.60 L509.23,515.91 L510.10,516.21 L510.96,516.51 L511.83,516.81 L512.69,517.11 L513.55,517.41 L514.40,517.71 L515.25,518.01 L516.10,518.31 L516.95,518.60 L517.79,518.90 L518.64,519.20 L519.47,519.50 L520.31,519.80 L521.14,520.10 L521.97,520.39 L522.80,520.69 L523.62,520.99 L524.44,521.28 L525.26,521.58 L526.07,521.88 L526.88,522.17 L527.69,522.47 L528.50,522.76 L529.30,523.05 L530.10,523.35 L530.90,523.64 L531.69,523.93 L532.49,524.22 L533.27,524.51 L534.06,524.80 L534.84,525.09 L535.62,525.38 L536.40,525.67 L537.17,525.95 L537.95,526.24 L538.71,526.52 L539.48,526.81 L540.24,527.09 L541.00,527.37 L541.76,527.66 L542.51,527.94 L543.26,528.22 L544.01,528.50 L544.76,528.77 L545.50,529.05 L546.24,529.33 L546.97,529.60 L547.71,529.88 L548.44,530.15 L549.16,530.42 L549.89,530.70 L550.61,530.97 L551.33,531.24 L552.05,531.51 L552.76,531.78 L553.47,532.05 L554.18,532.32 L554.88,532.59 L555.58,532.86 L556.28,533.13 L556.98,533.39 L557.67,533.66 L558.36,533.93 L559.05,534.19 L559.73,534.46 L560.41,534.73 L561.09,534.99 L561.76,535.26 L562.44,535.52 L563.11,535.78 L563.77,536.05 L564.44,536.31 L565.10,536.57 L565.76,536.83 L566.41,537.10 L567.06,537.36 L567.71,537.62 L568.36,537.88 L569.00,538.14 L569.64,538.40 L570.28,538.66 L570.91,538.92 L571.55,539.18 L572.17,539.43 L572.80,539.69 L573.42,539.95 L574.04,540.21 L574.66,540.46 L575.28,540.72 L575.89,540.98 L576.49,541.23 L577.10,541.49 L577.70,541.74 L578.30,542.00 L578.90,542.25 L579.49,542.50 L580.09,542.76 L580.67,543.01 L581.26,543.26 L581.84,543.52 L582.42,543.77 L583.00,544.02 L583.57,544.27 L584.14,544.53 L584.71,544.78 L585.27,545.03 L585.84,545.28 L586.40,545.53 L586.95,545.78 L587.50,546.03 L588.06,546.28 L588.60,546.53 L589.15,546.78 L589.69,547.03 L590.23,547.27 L590.76,547.52 L591.30,547.77 L591.83,548.02 L592.35,548.27 L592.88,548.51 L593.40,548.76 L593.92,549.01 L594.44,549.26 L594.95,549.50 L595.46,549.75 L595.97,549.99 L596.48,550.24 L596.98,550.49 L597.48,550.73 L597.98,550.98 L598.47,551.22 L598.96,551.47 L599.45,551.71 L599.94,551.96 L600.42,552.20 L600.90,552.44 L601.37,552.69 L601.85,552.93 L602.32,553.18 L602.79,553.42 L603.25,553.66 L603.71,553.91 L604.17,554.15 L604.63,554.39 L605.08,554.64 L605.53,554.88 L605.98,555.12 L606.43,555.36 L606.87,555.61 L607.31,555.85 L607.74,556.09 L608.17,556.33 L608.61,556.57 L609.03,556.82 L609.46,557.06 L609.88,557.30 L610.30,557.53 L610.71,557.77 L611.12,558.01 L611.53,558.24 L611.94,558.47 L612.35,558.70 L612.75,558.93 L613.14,559.16 L613.54,559.39 L613.93,559.62 L614.32,559.84 L614.71,560.07 L615.09,560.29 L615.47,560.52 L615.85,560.74 L616.22,560.96 L616.60,561.19 L616.97,561.41 L617.33,561.64 L617.70,561.86 L618.06,562.09 L618.41,562.31 L618.77,562.54 L619.12,562.76 L619.47,562.99 L619.81,563.22 L620.16,563.44 L620.50,563.67 L620.83,563.90 L621.17,564.14 L621.50,564.37 L621.83,564.60 L622.15,564.84 L622.48,565.08 L622.80,565.32 L623.11,565.56 L623.43,565.80 L623.74,566.04 L624.05,566.29 L624.35,566.54 L624.65,566.79 L624.95,567.05 L625.25,567.30 L625.54,567.56 L625.83,567.82 L626.12,568.09 L626.41,568.36 L626.69,568.63 L626.97,568.91 L627.24,569.19 L627.52,569.47 L627.79,569.75 L628.05,570.04 L628.32,570.32 L628.58,570.61 L628.84,570.90 L629.10,571.20 L629.35,571.49 L629.60,571.79 L629.85,572.09 L630.09,572.38 L630.33,572.68 L630.57,572.98 L630.80,573.28 L631.04,573.58 L631.27,573.89 L631.49,574.19 L631.72,574.49 L631.94,574.79 L632.16,575.09 L632.37,575.39 L632.58,575.69 L632.79,575.99 L633.00,576.29 L633.20,576.59 L633.40,576.89 L633.60,577.18 L633.80,577.48 L633.99,577.77 L634.18,578.06 L634.36,578.35 L634.55,578.64 L634.73,578.92 L634.90,579.20 L635.08,579.48 L635.25,579.76 L635.42,580.03 L635.58,580.30 L635.75,580.57 L635.91,580.82 L636.06,581.08 L636.22,581.32 L636.37,581.57 L636.52,581.81 L636.66,582.05 L636.81,582.28 L636.95,582.52 L637.08,582.75 L637.22,582.99 L637.35,583.22 L637.48,583.46 L637.60,583.70 L637.72,583.94 L637.84,584.18 L637.96,584.43 L638.07,584.68 L638.18,584.94 L638.29,585.21 L638.40,585.48 L638.50,585.76 L638.60,586.05 L638.69,586.34 L638.79,586.65 L638.88,586.96 L638.96,587.29 L639.05,587.63 L639.13,587.98 L639.21,588.33 L639.28,588.70 L639.36,589.08 L639.43,589.47 L639.49,589.87 L639.56,590.28 L639.62,590.69 L639.68,591.12 L639.73,591.56 L639.78,592.00 L639.83,592.45 L639.88,592.91 L639.92,593.38 L639.97,593.86 L640.00,594.34 L640.04,594.84 L640.07,595.34 L640.10,595.84 L640.13,596.36 L640.15,596.88 L640.17,597.41 L640.19,597.94 L640.20,598.48 L640.21,599.03 L640.22,599.58 L640.23,600.14 L640.23,601.10" stroke="#58ff0a" stroke-width="4.6"/>
<path d="M117.11,443.02 L118.85,443.28 L120.59,443.54 L122.32,443.80 L124.06,444.06 L125.79,444.31 L127.51,444.57 L129.24,444.83 L130.96,445.09 L132.67,445.35 L134.39,445.61 L136.10,445.87 L137.81,446.12 L139.52,446.38 L141.22,446.64 L142.92,446.90 L144.62,447.16 L146.31,447.42 L148.01,447.68 L149.70,447.94 L151.38,448.19 L153.06,448.45 L154.75,448.71 L156.42,448.97 L158.10,449.23 L159.77,449.49 L161.44,449.75 L163.10,450.01 L164.77,450.26 L166.43,450.52 L168.08,450.78 L169.74,451.04 L171.39,451.30 L173.04,451.56 L174.68,451.82 L176.32,452.08 L177.96,452.33 L179.60,452.59 L181.24,452.85 L182.87,453.11 L184.49,453.37 L186.12,453.63 L187.74,453.89 L189.36,454.15 L190.98,454.41 L192.59,454.66 L194.20,454.92 L195.81,455.18 L197.41,455.44 L199.02,455.70 L200.61,455.96 L202.21,456.22 L203.80,456.48 L205.39,456.74 L206.98,457.00 L208.57,457.25 L210.15,457.51 L211.73,457.77 L213.30,458.03 L214.87,458.29 L216.44,458.55 L218.01,458.81 L219.58,459.07 L221.14,459.33 L222.70,459.59 L224.25,459.84 L225.80,460.10 L227.35,460.36 L228.90,460.62 L230.44,460.88 L231.98,461.14 L233.52,461.40 L235.06,461.66 L236.59,461.92 L238.12,462.18 L239.64,462.44 L241.17,462.69 L242.69,462.95 L244.21,463.21 L245.72,463.47 L247.23,463.73 L248.74,463.99 L250.25,464.25 L251.75,464.51 L253.25,464.77 L254.75,465.03 L256.24,465.29 L257.73,465.55 L259.22,465.81 L260.71,466.06 L262.19,466.32 L263.67,466.58 L265.15,466.84 L266.62,467.10 L268.09,467.36 L269.56,467.62 L271.03,467.88 L272.49,468.14 L273.95,468.40 L275.41,468.66 L276.86,468.92 L278.31,469.18 L279.76,469.44 L281.20,469.69 L282.65,469.95 L284.08,470.21 L285.52,470.47 L286.95,470.73 L288.39,470.99 L289.81,471.25 L291.24,471.51 L292.66,471.77 L294.08,472.03 L295.49,472.29 L296.91,472.55 L298.32,472.81 L299.72,473.07 L301.13,473.33 L302.53,473.59 L303.93,473.85 L305.32,474.11 L306.72,474.36 L308.11,474.62 L309.49,474.88 L310.88,475.14 L312.26,475.40 L313.64,475.66 L315.01,475.92 L316.39,476.18 L317.75,476.44 L319.12,476.70 L320.49,476.96 L321.85,477.22 L323.20,477.48 L324.56,477.74 L325.91,478.00 L327.26,478.26 L328.61,478.52 L329.95,478.78 L331.29,479.04 L332.63,479.30 L333.96,479.56 L335.29,479.82 L336.62,480.08 L337.95,480.34 L339.27,480.60 L340.59,480.86 L341.91,481.12 L343.22,481.38 L344.54,481.64 L345.84,481.89 L347.15,482.15 L348.45,482.41 L349.75,482.67 L351.05,482.93 L352.34,483.19 L353.63,483.45 L354.92,483.71 L356.21,483.97 L357.49,484.23 L358.77,484.49 L360.05,484.75 L361.32,485.01 L362.59,485.27 L363.86,485.53 L365.12,485.79 L366.38,486.05 L367.64,486.31 L368.90,486.57 L370.15,486.83 L371.40,487.09 L372.65,487.35 L373.90,487.61 L375.14,487.87 L376.38,488.13 L377.61,488.39 L378.85,488.65 L380.08,488.91 L381.30,489.17 L382.53,489.43 L383.75,489.69 L384.97,489.95 L386.18,490.21 L387.40,490.47 L388.60,490.73 L389.81,490.99 L391.02,491.25 L392.22,491.51 L393.41,491.77 L394.61,492.03 L395.80,492.29 L396.99,492.55 L398.18,492.81 L399.36,493.07 L400.54,493.33 L401.72,493.59 L402.90,493.86 L404.07,494.12 L405.24,494.38 L406.40,494.64 L407.57,494.90 L408.73,495.16 L409.88,495.42 L411.04,495.68 L412.19,495.94 L413.34,496.20 L414.48,496.46 L415.63,496.72 L416.77,496.98 L417.90,497.24 L419.04,497.50 L420.17,497.76 L421.30,498.02 L422.42,498.28 L423.55,498.54 L424.67,498.80 L425.78,499.06 L426.90,499.32 L428.01,499.58 L429.12,499.84 L430.22,500.10 L431.32,500.36 L432.42,500.63 L433.52,500.89 L434.61,501.15 L435.70,501.41 L436.79,501.67 L437.88,501.93 L438.96,502.19 L440.04,502.45 L441.11,502.71 L442.19,502.97 L443.26,503.23 L444.32,503.49 L445.39,503.75 L446.45,504.01 L447.51,504.27 L448.57,504.53 L449.62,504.79 L450.67,505.06 L451.72,505.32 L452.76,505.58 L453.80,505.84 L454.84,506.10 L455.87,506.36 L456.91,506.62 L457.94,506.88 L458.96,507.14 L459.99,507.40 L461.01,507.66 L462.03,507.92 L463.04,508.18 L464.05,508.45 L465.06,508.71 L466.07,508.97 L467.07,509.23 L468.07,509.49 L469.07,509.75 L470.07,510.01 L471.06,510.27 L472.05,510.53 L473.03,510.79 L474.02,511.05 L475.00,511.32 L475.97,511.58 L476.95,511.84 L477.92,512.10 L478.89,512.36 L479.86,512.62 L480.82,512.88 L481.78,513.14 L482.74,513.40 L483.69,513.66 L484.64,513.93 L485.59,514.19 L486.53,514.45 L487.48,514.71 L488.42,514.97 L489.35,515.23 L490.29,515.49 L491.22,515.76 L492.15,516.02 L493.07,516.28 L493.99,516.54 L494.91,516.80 L495.83,517.06 L496.74,517.32 L497.65,517.59 L498.56,517.85 L499.47,518.11 L500.37,518.37 L501.27,518.63 L502.16,518.90 L503.06,519.16 L503.95,519.42 L504.83,519.68 L505.72,519.94 L506.60,520.21 L507.48,520.47 L508.35,520.73 L509.23,520.99 L510.10,521.25 L510.96,521.52 L511.83,521.78 L512.69,522.04 L513.55,522.30 L514.40,522.56 L515.25,522.83 L516.10,523.09 L516.95,523.35 L517.79,523.61 L518.64,523.87 L519.47,524.14 L520.31,524.40 L521.14,524.66 L521.97,524.92 L522.80,525.18 L523.62,525.45 L524.44,525.71 L525.26,525.97 L526.07,526.23 L526.88,526.49 L527.69,526.75 L528.50,527.02 L529.30,527.28 L530.10,527.54 L530.90,527.80 L531.69,528.06 L532.49,528.33 L533.27,528.59 L534.06,528.85 L534.84,529.11 L535.62,529.37 L536.40,529.63 L537.17,529.89 L537.95,530.16 L538.71,530.42 L539.48,530.68 L540.24,530.94 L541.00,531.20 L541.76,531.46 L542.51,531.72 L543.26,531.98 L544.01,532.25 L544.76,532.51 L545.50,532.77 L546.24,533.03 L546.97,533.29 L547.71,533.55 L548.44,533.81 L549.16,534.07 L549.89,534.33 L550.61,534.60 L551.33,534.86 L552.05,535.12 L552.76,535.39 L553.47,535.65 L554.18,535.91 L554.88,536.18 L555.58,536.44 L556.28,536.71 L556.98,536.98 L557.67,537.24 L558.36,537.51 L559.05,537.78 L559.73,538.04 L560.41,538.31 L561.09,538.58 L561.76,538.85 L562.44,539.11 L563.11,539.38 L563.77,539.65 L564.44,539.92 L565.10,540.19 L565.76,540.46 L566.41,540.73 L567.06,541.00 L567.71,541.26 L568.36,541.53 L569.00,541.80 L569.64,542.07 L570.28,542.34 L570.91,542.61 L571.55,542.88 L572.17,543.15 L572.80,543.42 L573.42,543.69 L574.04,543.96 L574.66,544.23 L575.28,544.50 L575.89,544.77 L576.49,545.04 L577.10,545.30 L577.70,545.57 L578.30,545.84 L578.90,546.11 L579.49,546.38 L580.09,546.65 L580.67,546.91 L581.26,547.18 L581.84,547.45 L582.42,547.71 L583.00,547.98 L583.57,548.25 L584.14,548.51 L584.71,548.78 L585.27,549.04 L585.84,549.31 L586.40,549.57 L586.95,549.84 L587.50,550.10 L588.06,550.36 L588.60,550.63 L589.15,550.89 L589.69,551.15 L590.23,551.41 L590.76,551.67 L591.30,551.93 L591.83,552.19 L592.35,552.45 L592.88,552.71 L593.40,552.97 L593.92,553.23 L594.43,553.48 L594.95,553.74 L595.46,554.00 L595.96,554.25 L596.47,554.51 L596.97,554.76 L597.47,555.01 L597.96,555.26 L598.45,555.52 L598.94,555.77 L599.43,556.02 L599.91,556.26 L600.39,556.51 L600.87,556.76 L601.35,557.01 L601.82,557.25 L602.29,557.50 L602.75,557.74 L603.22,557.99 L603.68,558.23 L604.13,558.47 L604.59,558.71 L605.04,558.95 L605.49,559.19 L605.94,559.42 L606.38,559.66 L606.82,559.90 L607.26,560.13 L607.69,560.36 L608.12,560.60 L608.55,560.83 L608.98,561.06 L609.40,561.29 L609.82,561.51 L610.23,561.74 L610.65,561.96 L611.06,562.18 L611.47,562.40 L611.87,562.61 L612.28,562.82 L612.67,563.04 L613.07,563.25 L613.46,563.45 L613.86,563.66 L614.24,563.87 L614.63,564.07 L615.01,564.27 L615.39,564.48 L615.76,564.68 L616.14,564.88 L616.51,565.08 L616.88,565.28 L617.24,565.48 L617.60,565.68 L617.96,565.88 L618.32,566.08 L618.67,566.28 L619.02,566.48 L619.37,566.69 L619.71,566.89 L620.05,567.09 L620.39,567.29 L620.73,567.50 L621.06,567.70 L621.39,567.91 L621.71,568.12 L622.04,568.33 L622.36,568.54 L622.68,568.75 L622.99,568.97 L623.31,569.19 L623.61,569.40 L623.92,569.63 L624.22,569.85 L624.53,570.07 L624.82,570.30 L625.12,570.53 L625.41,570.77 L625.70,571.01 L625.98,571.25 L626.27,571.49 L626.55,571.74 L626.83,571.99 L627.10,572.24 L627.37,572.49 L627.64,572.75 L627.91,573.00 L628.17,573.26 L628.43,573.52 L628.69,573.79 L628.94,574.05 L629.19,574.32 L629.44,574.59 L629.69,574.85 L629.93,575.12 L630.17,575.39 L630.40,575.67 L630.64,575.94 L630.87,576.21 L631.10,576.48 L631.32,576.75 L631.54,577.03 L631.76,577.30 L631.98,577.57 L632.19,577.84 L632.40,578.11 L632.61,578.39 L632.82,578.66 L633.02,578.92 L633.22,579.19 L633.41,579.46 L633.61,579.73 L633.80,579.99 L633.98,580.25 L634.17,580.51 L634.35,580.77 L634.53,581.03 L634.70,581.28 L634.88,581.54 L635.05,581.79 L635.21,582.03 L635.38,582.28 L635.54,582.52 L635.70,582.75 L635.85,582.98 L636.01,583.20 L636.16,583.42 L636.30,583.64 L636.45,583.85 L636.59,584.07 L636.72,584.28 L636.86,584.49 L636.99,584.70 L637.12,584.91 L637.25,585.13 L637.37,585.34 L637.49,585.56 L637.61,585.78 L637.72,586.00 L637.84,586.23 L637.94,586.47 L638.05,586.71 L638.15,586.95 L638.25,587.20 L638.35,587.46 L638.45,587.73 L638.54,588.01 L638.63,588.29 L638.71,588.59 L638.79,588.89 L638.87,589.21 L638.95,589.53 L639.02,589.86 L639.10,590.21 L639.16,590.56 L639.23,590.92 L639.29,591.29 L639.35,591.66 L639.41,592.05 L639.46,592.44 L639.51,592.84 L639.56,593.25 L639.61,593.67 L639.65,594.09 L639.69,594.52 L639.72,594.96 L639.76,595.40 L639.79,595.86 L639.81,596.31 L639.84,596.78 L639.86,597.25 L639.88,597.72 L639.90,598.21 L639.91,598.70 L639.92,599.19 L639.93,599.69 L639.93,600.19 L639.93,601.10" stroke="#0c0cff" stroke-width="3.9"/>
<path d="M117.11,451.20 L118.85,451.45 L120.59,451.69 L122.32,451.94 L124.06,452.19 L125.79,452.44 L127.51,452.69 L129.24,452.94 L130.96,453.19 L132.67,453.44 L134.39,453.68 L136.10,453.93 L137.81,454.18 L139.52,454.43 L141.22,454.68 L142.92,454.93 L144.62,455.18 L146.31,455.42 L148.01,455.67 L149.70,455.92 L151.38,456.17 L153.06,456.42 L154.75,456.67 L156.42,456.92 L158.10,457.17 L159.77,457.41 L161.44,457.66 L163.10,457.91 L164.77,458.16 L166.43,458.41 L168.08,458.66 L169.74,458.91 L171.39,459.16 L173.04,459.40 L174.68,459.65 L176.32,459.90 L177.96,460.15 L179.60,460.40 L181.24,460.65 L182.87,460.90 L184.49,461.14 L186.12,461.39 L187.74,461.64 L189.36,461.89 L190.98,462.14 L192.59,462.39 L194.20,462.64 L195.81,462.89 L197.41,463.13 L199.02,463.38 L200.61,463.63 L202.21,463.88 L203.80,464.13 L205.39,464.38 L206.98,464.63 L208.57,464.88 L210.15,465.12 L211.73,465.37 L213.30,465.62 L214.87,465.87 L216.44,466.12 L218.01,466.37 L219.58,466.62 L221.14,466.87 L222.70,467.11 L224.25,467.36 L225.80,467.61 L227.35,467.86 L228.90,468.11 L230.44,468.36 L231.98,468.61 L233.52,468.86 L235.06,469.10 L236.59,469.35 L238.12,469.60 L239.64,469.85 L241.17,470.10 L242.69,470.35 L244.21,470.60 L245.72,470.85 L247.23,471.09 L248.74,471.34 L250.25,471.59 L251.75,471.84 L253.25,472.09 L254.75,472.34 L256.24,472.59 L257.73,472.84 L259.22,473.08 L260.71,473.33 L262.19,473.58 L263.67,473.83 L265.15,474.08 L266.62,474.33 L268.09,474.58 L269.56,474.83 L271.03,475.07 L272.49,475.32 L273.95,475.57 L275.41,475.82 L276.86,476.07 L278.31,476.32 L279.76,476.57 L281.20,476.82 L282.65,477.06 L284.08,477.31 L285.52,477.56 L286.95,477.81 L288.39,478.06 L289.81,478.31 L291.24,478.56 L292.66,478.81 L294.08,479.05 L295.49,479.30 L296.91,479.55 L298.32,479.80 L299.72,480.05 L301.13,480.30 L302.53,480.55 L303.93,480.80 L305.32,481.04 L306.72,481.29 L308.11,481.54 L309.49,481.79 L310.88,482.04 L312.26,482.29 L313.64,482.54 L315.01,482.79 L316.39,483.03 L317.75,483.28 L319.12,483.53 L320.49,483.78 L321.85,484.03 L323.20,484.28 L324.56,484.53 L325.91,484.78 L327.26,485.03 L328.61,485.27 L329.95,485.52 L331.29,485.77 L332.63,486.02 L333.96,486.27 L335.29,486.52 L336.62,486.77 L337.95,487.02 L339.27,487.26 L340.59,487.51 L341.91,487.76 L343.22,488.01 L344.54,488.26 L345.84,488.51 L347.15,488.76 L348.45,489.01 L349.75,489.25 L351.05,489.50 L352.34,489.75 L353.63,490.00 L354.92,490.25 L356.21,490.50 L357.49,490.75 L358.77,491.00 L360.05,491.25 L361.32,491.49 L362.59,491.74 L363.86,491.99 L365.12,492.24 L366.38,492.49 L367.64,492.74 L368.90,492.99 L370.15,493.24 L371.40,493.48 L372.65,493.73 L373.90,493.98 L375.14,494.23 L376.38,494.48 L377.61,494.73 L378.85,494.98 L380.08,495.23 L381.30,495.48 L382.53,495.72 L383.75,495.97 L384.97,496.22 L386.18,496.47 L387.40,496.72 L388.60,496.97 L389.81,497.22 L391.02,497.47 L392.22,497.72 L393.41,497.96 L394.61,498.21 L395.80,498.46 L396.99,498.71 L398.18,498.96 L399.36,499.21 L400.54,499.46 L401.72,499.71 L402.90,499.96 L404.07,500.20 L405.24,500.45 L406.40,500.70 L407.57,500.95 L408.73,501.20 L409.88,501.45 L411.04,501.70 L412.19,501.95 L413.34,502.20 L414.48,502.44 L415.63,502.69 L416.77,502.94 L417.90,503.19 L419.04,503.44 L420.17,503.69 L421.30,503.94 L422.42,504.19 L423.55,504.43 L424.67,504.68 L425.78,504.93 L426.90,505.18 L428.01,505.43 L429.12,505.68 L430.22,505.93 L431.32,506.18 L432.42,506.43 L433.52,506.68 L434.61,506.92 L435.70,507.17 L436.79,507.42 L437.88,507.67 L438.96,507.92 L440.04,508.17 L441.11,508.42 L442.19,508.67 L443.26,508.92 L444.32,509.16 L445.39,509.41 L446.45,509.66 L447.51,509.91 L448.57,510.16 L449.62,510.41 L450.67,510.66 L451.72,510.91 L452.76,511.16 L453.80,511.40 L454.84,511.65 L455.87,511.90 L456.91,512.15 L457.94,512.40 L458.96,512.65 L459.99,512.90 L461.01,513.15 L462.03,513.40 L463.04,513.64 L464.05,513.89 L465.06,514.14 L466.07,514.39 L467.07,514.64 L468.07,514.89 L469.07,515.14 L470.07,515.39 L471.06,515.64 L472.05,515.89 L473.03,516.13 L474.02,516.38 L475.00,516.63 L475.97,516.88 L476.95,517.13 L477.92,517.38 L478.89,517.63 L479.86,517.88 L480.82,518.13 L481.78,518.38 L482.74,518.62 L483.69,518.87 L484.64,519.12 L485.59,519.37 L486.53,519.62 L487.48,519.87 L488.42,520.12 L489.35,520.37 L490.29,520.62 L491.22,520.87 L492.15,521.11 L493.07,521.36 L493.99,521.61 L494.91,521.86 L495.83,522.11 L496.74,522.36 L497.65,522.61 L498.56,522.86 L499.47,523.11 L500.37,523.36 L501.27,523.61 L502.16,523.86 L503.06,524.11 L503.95,524.36 L504.83,524.60 L505.72,524.85 L506.60,525.10 L507.48,525.35 L508.35,525.60 L509.23,525.85 L510.10,526.10 L510.96,526.35 L511.83,526.60 L512.69,526.85 L513.55,527.10 L514.40,527.35 L515.25,527.60 L516.10,527.85 L516.95,528.10 L517.79,528.35 L518.64,528.60 L519.47,528.84 L520.31,529.09 L521.14,529.34 L521.97,529.59 L522.80,529.84 L523.62,530.09 L524.44,530.34 L525.26,530.59 L526.07,530.84 L526.88,531.09 L527.69,531.34 L528.50,531.59 L529.30,531.84 L530.10,532.08 L530.90,532.33 L531.69,532.58 L532.49,532.83 L533.27,533.08 L534.06,533.33 L534.84,533.58 L535.62,533.83 L536.40,534.07 L537.17,534.32 L537.95,534.57 L538.71,534.82 L539.48,535.07 L540.24,535.32 L541.00,535.57 L541.76,535.81 L542.51,536.06 L543.26,536.31 L544.01,536.56 L544.76,536.81 L545.50,537.06 L546.24,537.30 L546.97,537.55 L547.71,537.80 L548.44,538.05 L549.16,538.30 L549.89,538.55 L550.61,538.80 L551.33,539.05 L552.05,539.30 L552.76,539.55 L553.47,539.81 L554.18,540.06 L554.88,540.31 L555.58,540.57 L556.28,540.82 L556.98,541.08 L557.67,541.33 L558.36,541.59 L559.05,541.85 L559.73,542.10 L560.41,542.36 L561.09,542.62 L561.76,542.88 L562.44,543.14 L563.11,543.40 L563.77,543.66 L564.44,543.91 L565.10,544.17 L565.76,544.43 L566.41,544.69 L567.06,544.95 L567.71,545.21 L568.36,545.48 L569.00,545.74 L569.64,546.00 L570.28,546.26 L570.91,546.52 L571.55,546.78 L572.17,547.04 L572.80,547.30 L573.42,547.56 L574.04,547.82 L574.66,548.08 L575.28,548.34 L575.89,548.60 L576.49,548.86 L577.10,549.12 L577.70,549.38 L578.30,549.64 L578.90,549.90 L579.49,550.16 L580.09,550.42 L580.67,550.67 L581.26,550.93 L581.84,551.19 L582.42,551.45 L583.00,551.70 L583.57,551.96 L584.14,552.22 L584.71,552.47 L585.27,552.73 L585.84,552.98 L586.40,553.23 L586.95,553.49 L587.50,553.74 L588.06,553.99 L588.60,554.24 L589.15,554.49 L589.69,554.74 L590.23,554.99 L590.76,555.24 L591.30,555.49 L591.83,555.74 L592.35,555.98 L592.88,556.23 L593.40,556.47 L593.92,556.72 L594.43,556.96 L594.95,557.20 L595.46,557.45 L595.96,557.69 L596.47,557.93 L596.97,558.16 L597.47,558.40 L597.96,558.64 L598.45,558.87 L598.94,559.11 L599.43,559.34 L599.91,559.57 L600.39,559.81 L600.87,560.04 L601.35,560.26 L601.82,560.49 L602.29,560.72 L602.75,560.94 L603.22,561.17 L603.68,561.39 L604.13,561.61 L604.59,561.83 L605.04,562.05 L605.49,562.27 L605.94,562.48 L606.38,562.70 L606.82,562.91 L607.26,563.12 L607.69,563.33 L608.12,563.54 L608.55,563.75 L608.98,563.96 L609.40,564.16 L609.82,564.36 L610.23,564.56 L610.65,564.75 L611.06,564.95 L611.47,565.14 L611.87,565.32 L612.28,565.51 L612.67,565.69 L613.07,565.87 L613.46,566.05 L613.86,566.22 L614.24,566.40 L614.63,566.57 L615.01,566.75 L615.39,566.92 L615.76,567.09 L616.14,567.26 L616.51,567.43 L616.88,567.59 L617.24,567.76 L617.60,567.93 L617.96,568.10 L618.32,568.27 L618.67,568.43 L619.02,568.60 L619.37,568.77 L619.71,568.94 L620.05,569.11 L620.39,569.29 L620.73,569.46 L621.06,569.63 L621.39,569.81 L621.71,569.99 L622.04,570.17 L622.36,570.35 L622.68,570.53 L622.99,570.72 L623.31,570.91 L623.61,571.10 L623.92,571.29 L624.22,571.49 L624.53,571.69 L624.82,571.89 L625.12,572.10 L625.41,572.31 L625.70,572.53 L625.98,572.74 L626.27,572.97 L626.55,573.19 L626.83,573.42 L627.10,573.65 L627.37,573.89 L627.64,574.13 L627.91,574.37 L628.17,574.61 L628.43,574.86 L628.69,575.11 L628.94,575.36 L629.19,575.61 L629.44,575.86 L629.69,576.12 L629.93,576.37 L630.17,576.63 L630.40,576.89 L630.64,577.15 L630.87,577.41 L631.10,577.67 L631.32,577.94 L631.54,578.20 L631.76,578.46 L631.98,578.72 L632.19,578.98 L632.40,579.24 L632.61,579.51 L632.82,579.77 L633.02,580.02 L633.22,580.28 L633.41,580.54 L633.61,580.79 L633.80,581.05 L633.98,581.30 L634.17,581.55 L634.35,581.80 L634.53,582.04 L634.70,582.29 L634.88,582.53 L635.05,582.77 L635.21,583.00 L635.38,583.23 L635.54,583.46 L635.70,583.68 L635.85,583.89 L636.01,584.11 L636.16,584.32 L636.30,584.52 L636.45,584.73 L636.59,584.93 L636.72,585.13 L636.86,585.33 L636.99,585.53 L637.12,585.73 L637.25,585.93 L637.37,586.14 L637.49,586.34 L637.61,586.55 L637.72,586.77 L637.84,586.98 L637.94,587.21 L638.05,587.43 L638.15,587.67 L638.25,587.90 L638.35,588.15 L638.45,588.40 L638.54,588.67 L638.63,588.94 L638.71,589.22 L638.79,589.50 L638.87,589.80 L638.95,590.11 L639.02,590.43 L639.10,590.75 L639.16,591.08 L639.23,591.42 L639.29,591.77 L639.35,592.13 L639.41,592.50 L639.46,592.87 L639.51,593.25 L639.56,593.64 L639.61,594.03 L639.65,594.43 L639.69,594.84 L639.72,595.26 L639.76,595.68 L639.79,596.11 L639.81,596.54 L639.84,596.98 L639.86,597.43 L639.88,597.88 L639.90,598.34 L639.91,598.80 L639.92,599.27 L639.93,599.74 L639.93,600.22 L639.93,601.10" stroke="#18a00a" stroke-width="3.8"/>
</g>
<text x="306.15" y="50.10" font-size="24.00" textLength="82.00" lengthAdjust="spacingAndGlyphs" style="font-weight:bold;stroke-width:0px">Derating</text>
<text x="391.96" y="50.10" font-size="24.00" textLength="51.16" lengthAdjust="spacingAndGlyphs" style="font-weight:bold;stroke-width:0px">Curve</text>
<text x="184.74" y="80.80" font-size="24.00" textLength="60.55" lengthAdjust="spacingAndGlyphs">Female</text>
<text x="252.45" y="80.80" font-size="24.00" textLength="90.26" lengthAdjust="spacingAndGlyphs">connector</text>
<text x="346.50" y="80.80" font-size="24.00" textLength="177.30" lengthAdjust="spacingAndGlyphs">(722-232/005-000)</text>
<text x="529.85" y="80.80" font-size="24.00" textLength="35.21" lengthAdjust="spacingAndGlyphs">with</text>
<text x="201.34" y="111.50" font-size="24.00" textLength="108.88" lengthAdjust="spacingAndGlyphs">1-conductor</text>
<rect x="201.79" y="108.78" width="4.61" height="4.64" fill="#fff"/><rect x="209.07" y="108.78" width="4.05" height="4.64" fill="#fff"/>
<text x="316.15" y="111.50" font-size="24.00" textLength="41.47" lengthAdjust="spacingAndGlyphs">male</text>
<text x="363.75" y="111.50" font-size="24.00" textLength="90.06" lengthAdjust="spacingAndGlyphs">connector</text>
<text x="458.73" y="111.50" font-size="24.00" textLength="90.44" lengthAdjust="spacingAndGlyphs">(721-602)</text>
<rect x="489.34" y="108.78" width="4.66" height="4.64" fill="#fff"/><rect x="496.69" y="108.78" width="4.09" height="4.64" fill="#fff"/>
<text x="110.83" y="141.90" font-size="24.00" textLength="29.89" lengthAdjust="spacingAndGlyphs">Pin</text>
<text x="144.75" y="141.90" font-size="24.00" textLength="76.70" lengthAdjust="spacingAndGlyphs">spacing:</text>
<text x="225.41" y="141.90" font-size="24.00" textLength="9.91" lengthAdjust="spacingAndGlyphs">5</text>
<text x="239.26" y="141.90" font-size="24.00" textLength="34.16" lengthAdjust="spacingAndGlyphs">mm</text>
<text x="278.72" y="141.90" font-size="24.00" textLength="5.85" lengthAdjust="spacingAndGlyphs">/</text>
<text x="289.80" y="141.90" font-size="24.00" textLength="92.70" lengthAdjust="spacingAndGlyphs">Conductor</text>
<text x="388.47" y="141.90" font-size="24.00" textLength="123.84" lengthAdjust="spacingAndGlyphs">cross-section:</text>
<text x="516.66" y="141.90" font-size="24.00" textLength="29.40" lengthAdjust="spacingAndGlyphs">2.5</text>
<text x="550.64" y="141.90" font-size="24.00" textLength="32.32" lengthAdjust="spacingAndGlyphs">mm</text>
<text x="596.75" y="141.90" font-size="24.00" textLength="42.99" lengthAdjust="spacingAndGlyphs">&quot;f-st&quot;</text>
<text x="584.42" y="133.90" font-size="13.00" textLength="5.86" lengthAdjust="spacingAndGlyphs" style="stroke-width:0.3px">2</text>
<text x="163.72" y="172.30" font-size="24.00" textLength="55.52" lengthAdjust="spacingAndGlyphs">Based</text>
<text x="223.98" y="172.30" font-size="24.00" textLength="27.82" lengthAdjust="spacingAndGlyphs">on:</text>
<text x="256.16" y="172.30" font-size="24.00" textLength="28.28" lengthAdjust="spacingAndGlyphs">EN</text>
<text x="287.77" y="172.30" font-size="24.00" textLength="95.06" lengthAdjust="spacingAndGlyphs">60512-5-2</text>
<rect x="323.02" y="169.58" width="4.65" height="4.64" fill="#fff"/><rect x="330.36" y="169.58" width="4.09" height="4.64" fill="#fff"/>
<text x="388.93" y="172.30" font-size="24.00" textLength="5.85" lengthAdjust="spacingAndGlyphs">/</text>
<text x="399.52" y="172.30" font-size="24.00" textLength="88.13" lengthAdjust="spacingAndGlyphs">Reduction</text>
<text x="493.03" y="172.30" font-size="24.00" textLength="58.47" lengthAdjust="spacingAndGlyphs">factor:</text>
<text x="556.83" y="172.30" font-size="24.00" textLength="28.23" lengthAdjust="spacingAndGlyphs">0.8</text>
<text x="87.50" y="221.90" font-size="24.00" textLength="67.22" lengthAdjust="spacingAndGlyphs">Current</text>
<text x="160.02" y="221.90" font-size="24.00" textLength="15.23" lengthAdjust="spacingAndGlyphs">in</text>
<text x="179.99" y="221.90" font-size="24.00" textLength="13.53" lengthAdjust="spacingAndGlyphs">A</text>
<text x="98.14" y="566.56" font-size="23.60" textLength="9.15" lengthAdjust="spacingAndGlyphs" style="stroke-width:0.4px">5</text>
<text x="89.93" y="527.61" font-size="23.60" textLength="20.49" lengthAdjust="spacingAndGlyphs" style="stroke-width:0.4px">10</text>
<rect x="90.33" y="525.05" width="4.23" height="4.36" fill="#fff"/><rect x="96.79" y="525.05" width="3.69" height="4.36" fill="#fff"/>
<text x="89.92" y="488.67" font-size="23.60" textLength="20.55" lengthAdjust="spacingAndGlyphs" style="stroke-width:0.4px">15</text>
<rect x="90.33" y="486.10" width="4.24" height="4.36" fill="#fff"/><rect x="96.80" y="486.10" width="3.69" height="4.36" fill="#fff"/>
<text x="89.87" y="449.72" font-size="23.60" textLength="20.55" lengthAdjust="spacingAndGlyphs" style="stroke-width:0.4px">20</text>
<text x="89.87" y="410.78" font-size="23.60" textLength="20.61" lengthAdjust="spacingAndGlyphs" style="stroke-width:0.4px">25</text>
<text x="90.10" y="371.83" font-size="23.60" textLength="20.31" lengthAdjust="spacingAndGlyphs" style="stroke-width:0.4px">30</text>
<text x="90.10" y="332.89" font-size="23.60" textLength="20.37" lengthAdjust="spacingAndGlyphs" style="stroke-width:0.4px">35</text>
<text x="90.39" y="293.94" font-size="23.60" textLength="20.02" lengthAdjust="spacingAndGlyphs" style="stroke-width:0.4px">40</text>
<text x="90.39" y="255.00" font-size="23.60" textLength="20.07" lengthAdjust="spacingAndGlyphs" style="stroke-width:0.4px">45</text>
<text x="101.81" y="613.60" font-size="23.60" textLength="9.77" lengthAdjust="spacingAndGlyphs" style="stroke-width:0.4px">0</text>
<text x="166.13" y="623.50" font-size="23.60" textLength="19.35" lengthAdjust="spacingAndGlyphs" style="stroke-width:0.4px">10</text>
<rect x="166.45" y="620.94" width="4.05" height="4.36" fill="#fff"/><rect x="172.64" y="620.94" width="3.51" height="4.36" fill="#fff"/>
<text x="227.93" y="623.50" font-size="23.60" textLength="19.25" lengthAdjust="spacingAndGlyphs" style="stroke-width:0.4px">20</text>
<text x="288.83" y="623.50" font-size="23.60" textLength="19.66" lengthAdjust="spacingAndGlyphs" style="stroke-width:0.4px">30</text>
<text x="349.78" y="623.50" font-size="23.60" textLength="20.44" lengthAdjust="spacingAndGlyphs" style="stroke-width:0.4px">40</text>
<text x="411.55" y="623.50" font-size="23.60" textLength="20.89" lengthAdjust="spacingAndGlyphs" style="stroke-width:0.4px">50</text>
<text x="472.76" y="623.50" font-size="23.60" textLength="20.67" lengthAdjust="spacingAndGlyphs" style="stroke-width:0.4px">60</text>
<text x="534.52" y="623.50" font-size="23.60" textLength="19.16" lengthAdjust="spacingAndGlyphs" style="stroke-width:0.4px">70</text>
<text x="597.74" y="623.50" font-size="23.60" textLength="19.44" lengthAdjust="spacingAndGlyphs" style="stroke-width:0.4px">80</text>
<text x="627.48" y="623.50" font-size="23.60" textLength="20.91" lengthAdjust="spacingAndGlyphs" style="stroke-width:0.4px">85</text>
<text x="345.09" y="658.00" font-size="24.00" textLength="74.24" lengthAdjust="spacingAndGlyphs">Ambient</text>
<text x="425.36" y="658.00" font-size="24.00" textLength="85.74" lengthAdjust="spacingAndGlyphs">operating</text>
<text x="516.02" y="658.00" font-size="24.00" textLength="107.23" lengthAdjust="spacingAndGlyphs">temperature</text>
<text x="628.92" y="658.00" font-size="24.00" textLength="15.23" lengthAdjust="spacingAndGlyphs">in</text>
<text x="649.38" y="658.00" font-size="24.00" textLength="19.77" lengthAdjust="spacingAndGlyphs">°C</text>
<text x="115.17" y="716.80" font-size="24.00" textLength="24.49" lengthAdjust="spacingAndGlyphs" style="fill:#ff2030;stroke:#ff2030;stroke-width:0.25px">2-,</text>
<text x="142.75" y="716.80" font-size="24.00" textLength="24.08" lengthAdjust="spacingAndGlyphs" style="fill:#80f5c8;stroke:#80f5c8;stroke-width:0.25px">4-,</text>
<text x="169.13" y="716.80" font-size="24.00" textLength="25.07" lengthAdjust="spacingAndGlyphs" style="fill:#5cf020;stroke:#5cf020;stroke-width:0.25px">6-,</text>
<text x="197.63" y="716.80" font-size="24.00" textLength="35.82" lengthAdjust="spacingAndGlyphs" style="fill:#2020ff;stroke:#2020ff;stroke-width:0.25px">12-,</text>
<rect x="198.28" y="714.28" width="4.64" height="4.24" fill="#fff"/><rect x="205.21" y="714.28" width="4.08" height="4.24" fill="#fff"/>
<text x="236.06" y="716.80" font-size="24.00" textLength="30.55" lengthAdjust="spacingAndGlyphs" style="fill:#25a512;stroke:#25a512;stroke-width:0.25px">20-</text>
<text x="269.20" y="716.80" font-size="24.00" textLength="38.78" lengthAdjust="spacingAndGlyphs">pole</text>
<line x1="402.6" y1="708.8" x2="450.5" y2="708.8" stroke="#ff6608" stroke-width="3.8"/>
<text x="455.41" y="716.80" font-size="24.00" textLength="92.30" lengthAdjust="spacingAndGlyphs">Conductor</text>
<text x="553.67" y="716.80" font-size="24.00" textLength="46.52" lengthAdjust="spacingAndGlyphs">rated</text>
<text x="606.37" y="716.80" font-size="24.00" textLength="62.96" lengthAdjust="spacingAndGlyphs">current</text>
</svg></body></html>
